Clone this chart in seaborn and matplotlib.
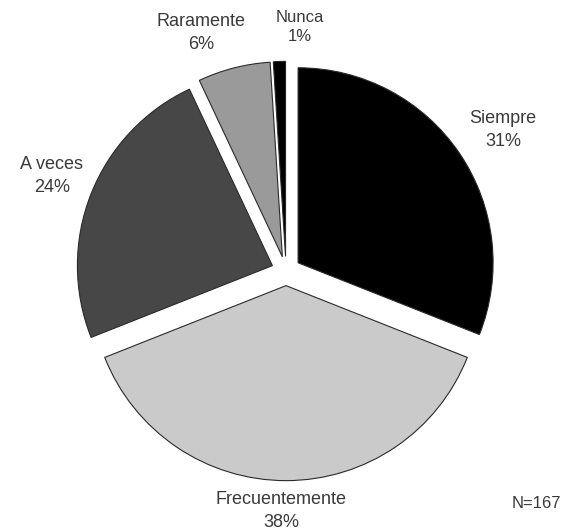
import matplotlib
matplotlib.use("Agg")
import matplotlib.pyplot as plt
import seaborn as sns

# Data
categories = ["Siempre", "Frecuentemente", "A veces", "Raramente", "Nunca"]
percents = [31, 38, 24, 6, 1]
slice_colors = ["#000000", "#cacaca", "#474747", "#9a9a9a", "#000000"]
sample_note = "N=167"

sns.set_theme(style="white")
plt.rcParams["font.family"] = ["Liberation Sans", "DejaVu Sans"]

W, H = 573, 531
fig = plt.figure(figsize=(W / 100, H / 100), dpi=100)
ax = fig.add_axes([0, 0, 1, 1])

labels = [f"{c}\n{p}%" for c, p in zip(categories, percents)]
wedges, texts = ax.pie(
    percents,
    labels=labels,
    colors=slice_colors,
    startangle=90,
    counterclock=False,
    explode=[0.075] * len(percents),
    labeldistance=1.24,
    wedgeprops=dict(edgecolor="#2a2a2a", linewidth=0.8),
    textprops=dict(fontsize=13, color="#3a3a3a", linespacing=1.4),
)

# place the pie: centre at pixel (286, 271) from top, radius 195 px
cx, cy, r = 286, 271, 195
ax.set_xlim(-cx / r, (W - cx) / r)
ax.set_ylim(-(H - cy) / r, cy / r)
ax.set_aspect("auto")
ax.axis("off")

# label centres (pixels from top-left), nudged to where the reference has them
label_px = [(503, 130), (281, 511), (52, 176), (201, 33), (300, 27)]
for t, (px, py) in zip(texts, label_px):
    t.set_position(((px - cx) / r, (cy - py) / r))
    t.set_ha("center")
    t.set_va("center")
texts[4].set_fontsize(12)

fig.text(536 / W, 1 - 503 / H, sample_note, ha="center", va="center",
         fontsize=12, color="#3a3a3a")

fig.savefig("out.png", dpi=100, facecolor="white")
